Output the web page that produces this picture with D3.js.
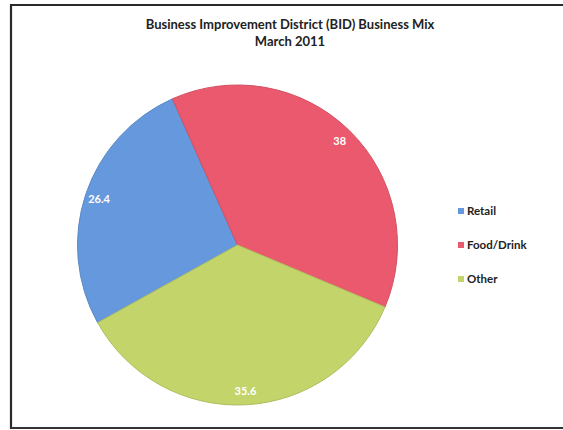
<!DOCTYPE html>
<html><head><meta charset="utf-8">
<script src="https://cdn.jsdelivr.net/npm/d3@7"></script>
<style>body{margin:0;background:#fff;} svg{display:block;}</style>
</head><body>
<script>
const categories = ["Retail", "Food/Drink", "Other"];
const values = [26.4, 38, 35.6];
const labels = ["26.4", "38", "35.6"];
const colors = ["#6598dc", "#ea596d", "#c3d46a"];
const titleLines = ["Business Improvement District (BID) Business Mix", "March 2011"];

const W = 563, H = 430;
const svg = d3.select("body").append("svg").attr("width", W).attr("height", H);
const font = "Lato, 'Open Sans', sans-serif";

// frame
svg.append("path").attr("d", `M11,429 L11,5 L563,5`).attr("fill","none").attr("stroke","#2a2a2a").attr("stroke-width",2.2);
svg.append("line").attr("x1",11).attr("x2",563).attr("y1",428).attr("y2",428).attr("stroke","#333").attr("stroke-width",2);

// title
svg.append("g").selectAll("text").data(titleLines).join("text")
  .attr("x", 290).attr("y", (d,i)=>29 + i*17)
  .attr("text-anchor","middle").attr("font-family",font).attr("font-weight","bold")
  .attr("font-size",13).attr("fill","#222").text(d=>d);

const cx = 237.5, cy = 245, R = 160;
const startDeg = -119.04;
const pie = d3.pie().sort(null).startAngle(startDeg*Math.PI/180).endAngle((startDeg+360)*Math.PI/180);
const arcs = pie(values);
const arc = d3.arc().innerRadius(0).outerRadius(R);
const labelArc = d3.arc().innerRadius(146).outerRadius(146);

const g = svg.append("g").attr("transform",`translate(${cx},${cy})`);
g.selectAll("path").data(arcs).join("path")
  .attr("d", arc).attr("fill",(d,i)=>colors[i])
  .attr("stroke",(d,i)=>d3.color(colors[i]).darker(0.3)).attr("stroke-width",1);

g.selectAll("text").data(arcs).join("text")
  .attr("transform", d=>`translate(${labelArc.centroid(d)})`)
  .attr("text-anchor","middle").attr("dy","0.35em")
  .attr("font-family",font).attr("font-weight","bold").attr("font-size",11)
  .attr("fill","#fff").text((d,i)=>labels[i]);

// legend
const lg = svg.append("g");
const items = lg.selectAll("g").data(categories).join("g")
  .attr("transform",(d,i)=>`translate(458,${211 + i*34})`);
items.append("rect").attr("x",0).attr("y",-3).attr("width",6).attr("height",6).attr("fill",(d,i)=>colors[i]);
items.append("text").attr("x",9).attr("dy","0.35em")
  .attr("font-family",font).attr("font-weight","bold").attr("font-size",11.5).attr("fill","#222").text(d=>d);
</script>
</body></html>
